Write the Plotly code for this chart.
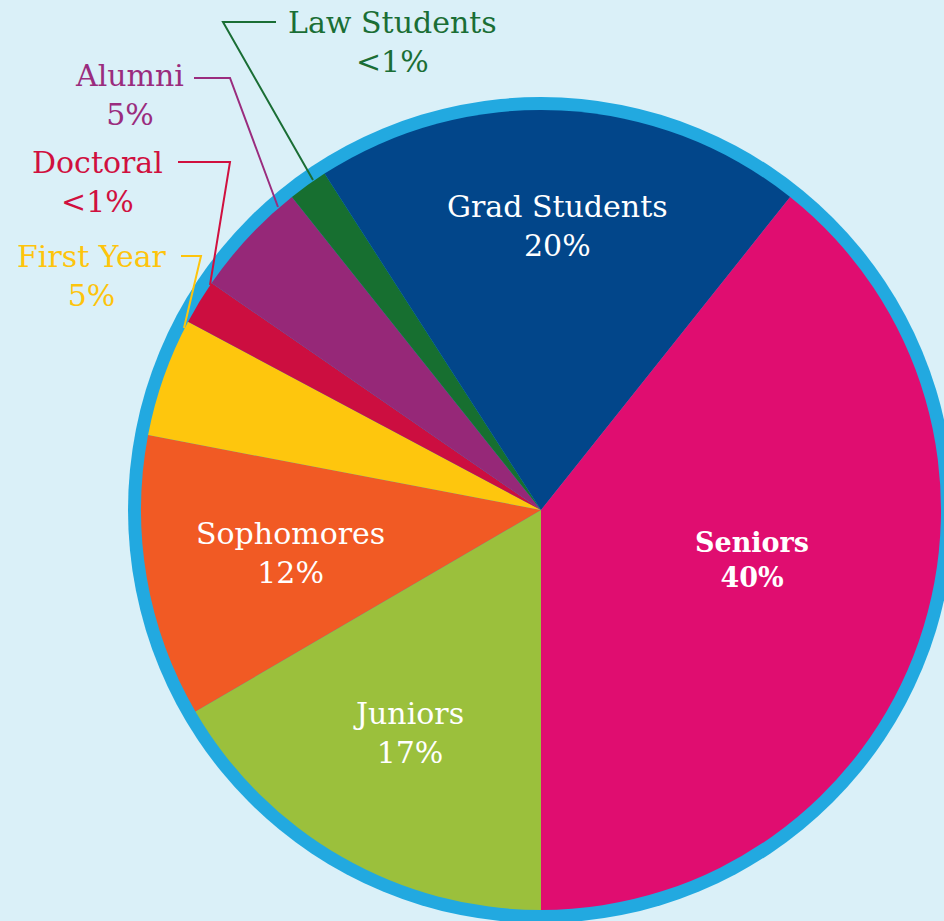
import plotly.graph_objects as go

# ---- data ----
categories = ["Juniors", "Sophomores", "First Year", "Doctoral", "Alumni",
              "Law Students", "Grad Students", "Seniors"]
shares = [16.6, 11.4, 4.8, 1.8, 4.7, 1.6, 19.8, 39.3]
share_labels = ["17%", "12%", "5%", "<1%", "5%", "<1%", "20%", "40%"]
slice_colors = ["#9bc03c", "#f15a24", "#fec60d", "#cc0e40", "#962878",
                "#176f30", "#02468a", "#e00d70"]
label_colors = ["#ffffff", "#ffffff", "#fec40c", "#d0103f", "#9a2c7e",
                "#1a6e35", "#ffffff", "#ffffff"]

W, H = 944, 921
BG = "#daf0f8"
RING = "#22a9e0"
FONT = "DejaVu Serif"


def px(x):
    return x / W


def py(y):
    return 1 - y / H


fig = go.Figure()
fig.add_trace(go.Pie(
    labels=categories,
    values=shares,
    sort=False,
    direction="clockwise",
    rotation=180,
    marker=dict(colors=slice_colors, line=dict(width=0)),
    textinfo="none",
    hoverinfo="label+percent",
    domain=dict(x=[px(141), px(941)], y=[py(910), py(110)]),
    showlegend=False,
))

# label layout: (center x, center y, bold) in pixels
label_pos = {
    "Juniors": (408, 733, False),
    "Sophomores": (290, 553, False),
    "First Year": (92, 276, False),
    "Doctoral": (97, 182, False),
    "Alumni": (129, 95, False),
    "Law Students": (392, 42, False),
    "Grad Students": (557, 226, False),
    "Seniors": (752, 560, True),
}

annotations = []
for cat, lab, col in zip(categories, share_labels, label_colors):
    x, y, bold = label_pos[cat]
    txt = f"{cat}<br>{lab}"
    size = 30
    if bold:
        txt = f"<b>{cat}</b><br><b>{lab}</b>"
        size = 27
    annotations.append(dict(
        x=px(x), y=py(y), xref="paper", yref="paper",
        text=txt, showarrow=False, xanchor="center", yanchor="middle",
        align="center", font=dict(family=FONT, size=size, color=col),
    ))

leaders = {
    "Law Students": [(276, 22), (223, 22), (313, 180)],
    "Alumni": [(194, 78), (230, 78), (278, 207)],
    "Doctoral": [(178, 162), (230, 162), (210, 285)],
    "First Year": [(181, 256), (201, 256), (184, 328)],
}

shapes = [dict(
    type="circle", xref="paper", yref="paper",
    x0=px(128), x1=px(954), y0=py(923), y1=py(97),
    fillcolor=RING, line=dict(width=0), layer="below",
)]
for cat, pts in leaders.items():
    col = label_colors[categories.index(cat)]
    path = "M " + " L ".join(f"{px(a)},{py(b)}" for a, b in pts)
    shapes.append(dict(type="path", xref="paper", yref="paper", path=path,
                       line=dict(color=col, width=2), layer="above"))

fig.update_layout(
    width=W, height=H,
    margin=dict(l=0, r=0, t=0, b=0),
    paper_bgcolor=BG, plot_bgcolor=BG,
    annotations=annotations, shapes=shapes,
    showlegend=False,
)

fig.write_html(
    "out.html",
    config={"displayModeBar": False},
    post_script="document.body.style.margin='0';"
                "document.body.style.background='" + BG + "';",
)
